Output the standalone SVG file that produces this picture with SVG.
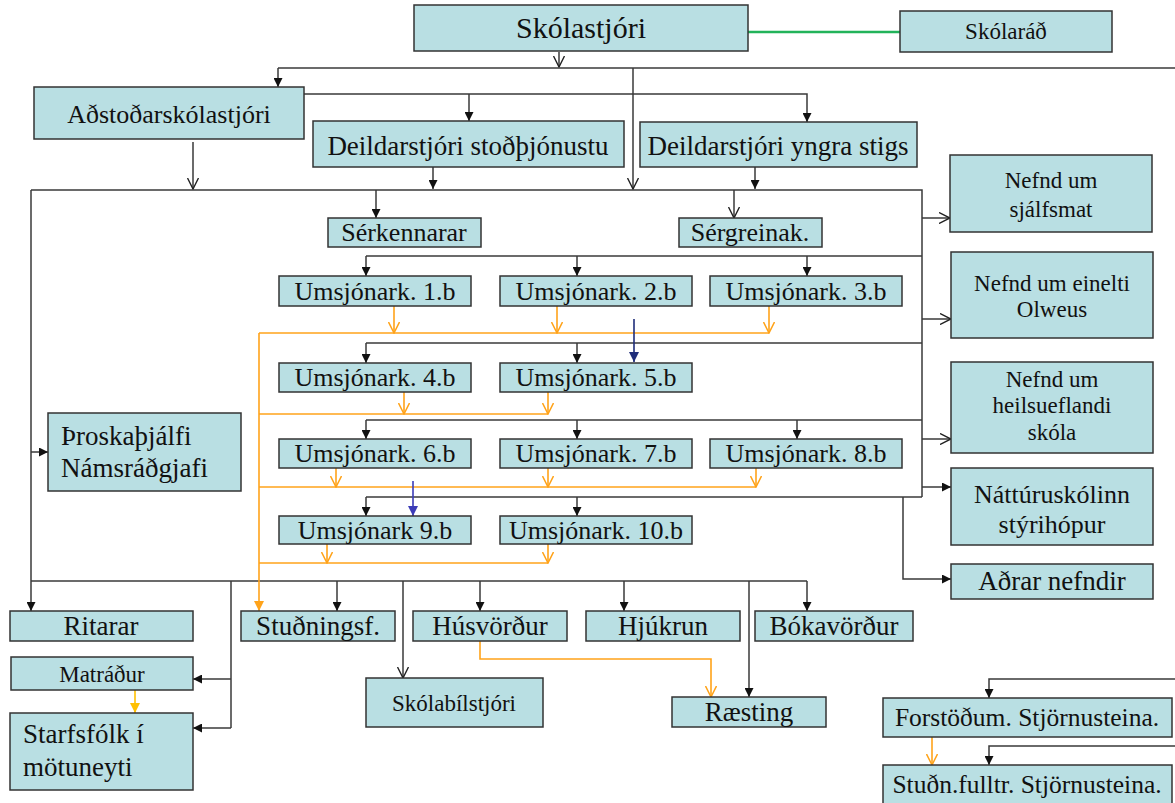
<svg xmlns="http://www.w3.org/2000/svg" width="1175" height="803" viewBox="0 0 1175 803">
<style>
.box{fill:#b9dfe3;stroke:#333;stroke-width:1.5}
text{font-family:"Times New Roman",Liberation Serif,Tinos,"DejaVu Serif",serif;fill:#111}
.c{text-anchor:middle}
.k{fill:none;stroke:#3a3a3a;stroke-width:1.5}
.o{fill:none;stroke:#ffa31a;stroke-width:1.6}
.kf{marker-end:url(#af)}
.ko{marker-end:url(#ao)}
.oo{marker-end:url(#oo)}
</style>
<defs>
<marker id="af" viewBox="0 0 10 10" refX="10" refY="5" markerWidth="9" markerHeight="9" markerUnits="userSpaceOnUse" orient="auto"><path d="M0,0 L10,5 L0,10 z" fill="#111"/></marker>
<marker id="ao" viewBox="0 0 12 12" refX="11" refY="6" markerWidth="12" markerHeight="12" markerUnits="userSpaceOnUse" orient="auto"><path d="M0,0.5 L11,6 L0,11.5" fill="none" stroke="#222" stroke-width="1.4"/></marker>
<marker id="oo" viewBox="0 0 12 12" refX="11" refY="6" markerWidth="12" markerHeight="12" markerUnits="userSpaceOnUse" orient="auto"><path d="M0,0.5 L11,6 L0,11.5" fill="none" stroke="#ffa31a" stroke-width="1.5"/></marker>
<marker id="of" viewBox="0 0 10 10" refX="10" refY="5" markerWidth="10" markerHeight="10" markerUnits="userSpaceOnUse" orient="auto"><path d="M0,0 L10,5 L0,10 z" fill="#ffa31a"/></marker>
<marker id="gf" viewBox="0 0 10 10" refX="10" refY="5" markerWidth="10" markerHeight="10" markerUnits="userSpaceOnUse" orient="auto"><path d="M0,0 L10,5 L0,10 z" fill="#ffc000"/></marker>
<marker id="nf" viewBox="0 0 10 10" refX="10" refY="5" markerWidth="10" markerHeight="10" markerUnits="userSpaceOnUse" orient="auto"><path d="M0,0 L10,5 L0,10 z" fill="#1f2d7a"/></marker>
<marker id="bf" viewBox="0 0 10 10" refX="10" refY="5" markerWidth="10" markerHeight="10" markerUnits="userSpaceOnUse" orient="auto"><path d="M0,0 L10,5 L0,10 z" fill="#3c3cb8"/></marker>
</defs>
<rect width="1175" height="803" fill="#fff"/>

<g id="connectors">
<line x1="748" y1="32" x2="900" y2="32" stroke="#22b35a" stroke-width="2.5"/>
<path class="k ko" d="M559,52 V67"/>
<path class="k" d="M278,68 H1175"/>
<path class="k kf" d="M278,68 V87"/>
<path class="k ko" d="M633,68 V189"/>
<path class="k kf" d="M304,94 H807 V122"/>
<path class="k kf" d="M469,94 V121"/>
<path class="k ko" d="M193,142 V189"/>
<path class="k kf" d="M433,167 V189"/>
<path class="k kf" d="M755,167 V189"/>
<path class="k" d="M31,190 H922 V497"/>
<path class="k kf" d="M376,190 V218"/>
<path class="k ko" d="M734,190 V218"/>
<path class="k ko" d="M922,218 H950"/>
<path class="k" d="M366,256 H922"/>
<path class="k kf" d="M366,256 V276"/>
<path class="k kf" d="M577,256 V276"/>
<path class="k kf" d="M807,256 V276"/>
<path class="k" d="M366,343 H922"/>
<path class="k kf" d="M366,343 V363"/>
<path class="k kf" d="M577,343 V363"/>
<path class="k" d="M366,420 H922"/>
<path class="k kf" d="M366,420 V439"/>
<path class="k kf" d="M577,420 V439"/>
<path class="k kf" d="M797,420 V439"/>
<path class="k" d="M366,497 H922"/>
<path class="k kf" d="M366,497 V516"/>
<path class="k kf" d="M577,497 V516"/>
<path class="k ko" d="M922,319 H951"/>
<path class="k ko" d="M922,439 H951"/>
<path class="k kf" d="M922,487 H951"/>
<path class="k kf" d="M903,497 V579 H951"/>
<path class="k kf" d="M31,190 V611"/>
<path class="k kf" d="M31,452 H48"/>
<path class="k" d="M31,581 H807"/>
<path class="k kf" d="M337,581 V611"/>
<path class="k kf" d="M480,581 V611"/>
<path class="k kf" d="M624,581 V611"/>
<path class="k kf" d="M807,581 V611"/>
<path class="k ko" d="M403,581 V678"/>
<path class="k kf" d="M749,581 V697"/>
<path class="k" d="M231,581 V728"/>
<path class="k kf" d="M231,679 H193"/>
<path class="k kf" d="M231,728 H193"/>
<path class="k kf" d="M1175,679 H989 V698"/>
<path class="k kf" d="M1175,746 H989 V765"/>

<path class="o" d="M259,333 V611" marker-end="url(#of)"/>
<path class="o" d="M259,333 H769"/>
<path class="o oo" d="M394,306 V333"/>
<path class="o oo" d="M557,306 V333"/>
<path class="o oo" d="M769,306 V333"/>
<path class="o" d="M259,414 H548"/>
<path class="o oo" d="M404,392 V414"/>
<path class="o oo" d="M548,392 V414"/>
<path class="o" d="M259,487 H756"/>
<path class="o oo" d="M336,468 V487"/>
<path class="o oo" d="M548,468 V487"/>
<path class="o oo" d="M756,468 V487"/>
<path class="o" d="M259,563 H548"/>
<path class="o oo" d="M327,544 V563"/>
<path class="o oo" d="M548,544 V563"/>
<path class="o oo" d="M480,641 V659 H711 V697"/>
<path class="o oo" d="M932,737 V765"/>
<path d="M135,690 V713" fill="none" stroke="#ffc000" stroke-width="1.6" marker-end="url(#gf)"/>
<path d="M634,319 V362" fill="none" stroke="#1f2d7a" stroke-width="1.6" marker-end="url(#nf)"/>
<path d="M413,481 V516" fill="none" stroke="#3c3cb8" stroke-width="1.6" marker-end="url(#bf)"/>
</g>

<g id="n-skolastjori"><rect class="box" x="414" y="5" width="334" height="46"/><text class="c" x="581" y="38" font-size="30">Skólastjóri</text></g>
<g id="n-skolarad"><rect class="box" x="900" y="11" width="212" height="41"/><text class="c" x="1006" y="39" font-size="23">Skólaráð</text></g>
<g id="n-adstodar"><rect class="box" x="34" y="87" width="270" height="52"/><text class="c" x="169" y="123" font-size="26">Aðstoðarskólastjóri</text></g>
<g id="n-deild-stod"><rect class="box" x="313" y="121" width="311" height="46"/><text class="c" x="468" y="155" font-size="27">Deildarstjóri stoðþjónustu</text></g>
<g id="n-deild-yngra"><rect class="box" x="640" y="122" width="277" height="45"/><text class="c" x="778" y="155" font-size="27">Deildarstjóri yngra stigs</text></g>
<g id="n-serkennarar"><rect class="box" x="328" y="218" width="153" height="29"/><text class="c" x="404" y="241" font-size="26">Sérkennarar</text></g>
<g id="n-sergreinak"><rect class="box" x="679" y="218" width="143" height="29"/><text class="c" x="750" y="241" font-size="26">Sérgreinak.</text></g>

<g id="n-u1"><rect class="box" x="279" y="276" width="192" height="30"/><text class="c" x="375" y="300" font-size="26">Umsjónark. 1.b</text></g>
<g id="n-u2"><rect class="box" x="500" y="276" width="192" height="30"/><text class="c" x="596" y="300" font-size="26">Umsjónark. 2.b</text></g>
<g id="n-u3"><rect class="box" x="710" y="276" width="192" height="30"/><text class="c" x="806" y="300" font-size="26">Umsjónark. 3.b</text></g>
<g id="n-u4"><rect class="box" x="279" y="363" width="192" height="29"/><text class="c" x="375" y="386" font-size="26">Umsjónark. 4.b</text></g>
<g id="n-u5"><rect class="box" x="500" y="363" width="192" height="29"/><text class="c" x="596" y="386" font-size="26">Umsjónark. 5.b</text></g>
<g id="n-u6"><rect class="box" x="279" y="439" width="192" height="29"/><text class="c" x="375" y="462" font-size="26">Umsjónark. 6.b</text></g>
<g id="n-u7"><rect class="box" x="500" y="439" width="192" height="29"/><text class="c" x="596" y="462" font-size="26">Umsjónark. 7.b</text></g>
<g id="n-u8"><rect class="box" x="710" y="439" width="192" height="29"/><text class="c" x="806" y="462" font-size="26">Umsjónark. 8.b</text></g>
<g id="n-u9"><rect class="box" x="279" y="516" width="192" height="28"/><text class="c" x="375" y="539" font-size="26">Umsjónark 9.b</text></g>
<g id="n-u10"><rect class="box" x="500" y="516" width="192" height="28"/><text class="c" x="596" y="539" font-size="26">Umsjónark. 10.b</text></g>

<g id="n-sjalfsmat"><rect class="box" x="950" y="155" width="202" height="77"/><text class="c" x="1051" y="188" font-size="23">Nefnd um</text><text class="c" x="1051" y="217" font-size="23">sjálfsmat</text></g>
<g id="n-einelti"><rect class="box" x="951" y="252" width="202" height="86"/><text class="c" x="1052" y="291" font-size="23">Nefnd um einelti</text><text class="c" x="1052" y="317" font-size="23">Olweus</text></g>
<g id="n-heilsu"><rect class="box" x="951" y="362" width="202" height="91"/><text class="c" x="1052" y="387" font-size="23">Nefnd um</text><text class="c" x="1052" y="413" font-size="23">heilsueflandi</text><text class="c" x="1052" y="440" font-size="23">skóla</text></g>
<g id="n-natturu"><rect class="box" x="951" y="468" width="202" height="77"/><text class="c" x="1052" y="503" font-size="26">Náttúruskólinn</text><text class="c" x="1052" y="533" font-size="26">stýrihópur</text></g>
<g id="n-adrar"><rect class="box" x="951" y="564" width="202" height="35"/><text class="c" x="1052" y="590" font-size="27">Aðrar nefndir</text></g>

<g id="n-throska"><rect class="box" x="48" y="413" width="193" height="78"/><text x="61" y="445" font-size="27">Þroskaþjálfi</text><text x="61" y="477" font-size="27">Námsráðgjafi</text></g>
<g id="n-ritarar"><rect class="box" x="10" y="611" width="183" height="30"/><text class="c" x="101" y="635" font-size="27">Ritarar</text></g>
<g id="n-studningsf"><rect class="box" x="241" y="611" width="154" height="30"/><text class="c" x="318" y="635" font-size="27">Stuðningsf.</text></g>
<g id="n-husvordur"><rect class="box" x="413" y="611" width="154" height="30"/><text class="c" x="490" y="635" font-size="27">Húsvörður</text></g>
<g id="n-hjukrun"><rect class="box" x="586" y="611" width="154" height="30"/><text class="c" x="663" y="635" font-size="27">Hjúkrun</text></g>
<g id="n-bokavordur"><rect class="box" x="755" y="611" width="158" height="30"/><text class="c" x="834" y="635" font-size="27">Bókavörður</text></g>
<g id="n-matradur"><rect class="box" x="11" y="657" width="182" height="33"/><text class="c" x="102" y="682" font-size="23">Matráður</text></g>
<g id="n-starfsfolk"><rect class="box" x="10" y="713" width="183" height="77"/><text x="23" y="743" font-size="27">Starfsfólk í</text><text x="23" y="776" font-size="27">mötuneyti</text></g>
<g id="n-skolabil"><rect class="box" x="366" y="678" width="177" height="49"/><text class="c" x="454" y="711" font-size="23">Skólabílstjóri</text></g>
<g id="n-raesting"><rect class="box" x="672" y="697" width="154" height="30"/><text class="c" x="749" y="721" font-size="27">Ræsting</text></g>
<g id="n-forstodum"><rect class="box" x="883" y="698" width="289" height="39"/><text class="c" x="1027" y="726" font-size="25.5">Forstöðum. Stjörnusteina.</text></g>
<g id="n-studn"><rect class="box" x="883" y="765" width="289" height="45"/><text class="c" x="1027" y="793" font-size="25.5">Stuðn.fulltr. Stjörnusteina.</text></g>
</svg>
